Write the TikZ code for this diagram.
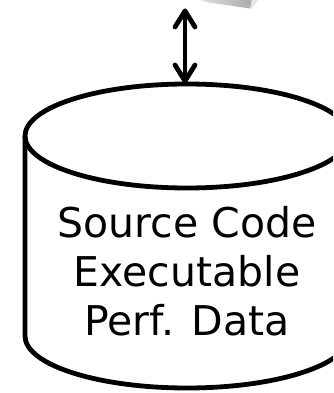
\documentclass[tikz,border=0pt]{standalone}
\usepackage{fontspec}
\newfontfamily\labelfont{DejaVu Sans}
\usetikzlibrary{calc}
\tikzset{
  outline/.style={line width=4.8pt, line join=round},
  link/.style={line width=4.8pt, line cap=round, line join=round},
  dblabel/.style={font=\labelfont\fontsize{41}{48}\selectfont, inner sep=0pt, anchor=base}
}
\begin{document}
\begin{tikzpicture}[x=1pt,y=-1pt]
  \useasboundingbox (0,0) rectangle (333,393);
  \clip (0,0) rectangle (333,393);
  % underside of the block above
  \shade[left color=gray!25, right color=gray!65] (198,-1) -- (206,2) -- (250,8.5) -- (252,8.5) -- (252,-1) -- cycle;
  \fill[gray!20] (250,8.5) -- (252,8.5) -- (259,-1) -- (252,-1) -- cycle;
  \coordinate (block) at (185,11);
  % storage cylinder
  \def\cx{187}\def\rx{162}\def\ry{52}
  \draw[outline] (\cx,136) ellipse [x radius=\rx, y radius=\ry];
  \draw[outline] (\cx-\rx,136) -- (\cx-\rx,336)
     arc[start angle=180, end angle=360, x radius=\rx, y radius=-\ry]
     -- (\cx+\rx,136);
  \coordinate (dbtop) at (185,81);
  \node[dblabel] (l1) at (187,237) {Source Code};
  \node[dblabel] (l2) at (187,286) {Executable};
  \node[dblabel] (l3) at (187,335) {Perf. Data};
  % data exchange, with open barbs at both ends
  \draw[link] (block) -- (dbtop);
  \draw[link] ($(block)+(-10,16)$) -- (block) -- ($(block)+(10,16)$);
  \draw[link] ($(dbtop)+(-10,-16)$) -- (dbtop) -- ($(dbtop)+(10,-16)$);
\end{tikzpicture}
\end{document}
